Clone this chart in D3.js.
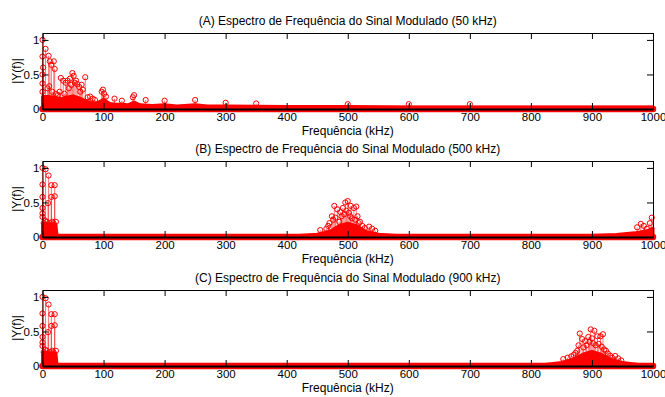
<!DOCTYPE html>
<html>
<head>
<meta charset="utf-8">
<script src="https://cdn.jsdelivr.net/npm/d3@7"></script>
<style>
  body { margin: 0; background: #fff; }
  svg text { font-family: "Liberation Sans", Arial, sans-serif; fill: #000; }
</style>
</head>
<body>
<svg id="chart" width="665" height="397"></svg>
<script>
// tick values and texts
const freqTicks = [0, 100, 200, 300, 400, 500, 600, 700, 800, 900, 1000];
const magTicks = [0, 0.5, 1];
const titles = [
  "(A) Espectro de Frequência do Sinal Modulado (50 kHz)",
  "(B) Espectro de Frequência do Sinal Modulado (500 kHz)",
  "(C) Espectro de Frequência do Sinal Modulado (900 kHz)"
];
const xLabel = "Frequência (kHz)";
const yLabel = "|Y(f)|";

// (A) visible stems
const peaksA_f = [0, 0, 0, 0, 0, 1, 5, 8, 10, 11, 12, 14.5, 16, 18.5, 20, 22, 25, 28, 30, 34, 36, 38, 41, 43, 45, 47, 49, 51, 53, 55, 57, 60, 62, 64, 66, 70, 74, 78, 82, 86, 97, 99, 101, 104, 118, 130, 148, 150, 169, 200, 250, 300, 350, 500, 600, 700];
const peaksA_v = [1.0, 0.76, 0.5, 0.37, 0.25, 0.6, 0.87, 0.3, 0.77, 0.33, 0.69, 0.64, 0.25, 0.69, 0.58, 0.22, 0.2, 0.25, 0.45, 0.41, 0.22, 0.38, 0.41, 0.3, 0.44, 0.35, 0.52, 0.48, 0.38, 0.41, 0.36, 0.32, 0.25, 0.35, 0.28, 0.46, 0.17, 0.18, 0.15, 0.13, 0.25, 0.28, 0.22, 0.18, 0.15, 0.12, 0.17, 0.2, 0.13, 0.12, 0.13, 0.09, 0.08, 0.07, 0.07, 0.07];
// (A) dense floor of stems (upper edge)
const floorA_f = [0, 10, 20, 30, 40, 50, 60, 70, 80, 90, 100, 110, 120, 130, 140, 150, 160, 180, 200, 220, 250, 270, 300, 350, 400, 450, 500, 600, 700, 800, 900, 1000];
const floorA_v = [0.18, 0.18, 0.17, 0.15, 0.17, 0.19, 0.16, 0.12, 0.09, 0.09, 0.14, 0.08, 0.07, 0.07, 0.06, 0.1, 0.06, 0.05, 0.06, 0.045, 0.06, 0.045, 0.045, 0.04, 0.035, 0.035, 0.035, 0.03, 0.03, 0.028, 0.028, 0.028];

// baseband stems shared by (B) and (C)
const baseband_f = [0, 0, 0, 0, 0, 0, 2, 4, 5, 7, 9, 10, 12, 14.5, 14.5, 16, 18, 20, 20, 22];
const baseband_v = [1.0, 0.76, 0.58, 0.42, 0.34, 0.29, 0.2, 0.24, 0.98, 0.22, 0.49, 0.89, 0.2, 0.75, 0.58, 0.22, 0.2, 0.75, 0.59, 0.22];

// (B) stems around 500 kHz and near 1000 kHz
const peaksB_f = [455, 465, 468, 470, 474, 476, 478, 480, 483, 486, 488, 490, 492, 494, 496, 498, 500, 502, 504, 505, 507, 510, 512, 514, 516, 518, 520, 524, 528, 535, 540, 545, 974, 980, 985, 990, 995, 998];
const peaksB_v = [0.1, 0.12, 0.16, 0.2, 0.3, 0.25, 0.45, 0.28, 0.4, 0.22, 0.36, 0.3, 0.42, 0.33, 0.5, 0.38, 0.52, 0.35, 0.3, 0.45, 0.27, 0.42, 0.25, 0.44, 0.3, 0.2, 0.22, 0.16, 0.13, 0.15, 0.12, 0.09, 0.14, 0.19, 0.16, 0.12, 0.2, 0.28];
const floorB_f = [0, 22, 24, 380, 420, 450, 470, 485, 500, 515, 530, 550, 580, 620, 860, 900, 940, 970, 990, 1000];
const floorB_v = [0.2, 0.18, 0.004, 0.004, 0.02, 0.04, 0.08, 0.16, 0.2, 0.16, 0.08, 0.04, 0.02, 0.004, 0.004, 0.02, 0.035, 0.06, 0.09, 0.13];

// (C) stems around 900 kHz
const peaksC_f = [853, 860, 866, 870, 873, 876, 878, 880, 884, 886, 889, 891, 894, 896, 898, 900, 902, 904, 906, 909, 911, 914, 916, 918, 920, 923, 926, 930, 933, 938, 943, 948];
const peaksC_v = [0.1, 0.12, 0.14, 0.16, 0.19, 0.22, 0.3, 0.47, 0.39, 0.27, 0.36, 0.3, 0.42, 0.35, 0.53, 0.4, 0.33, 0.51, 0.3, 0.43, 0.32, 0.43, 0.28, 0.46, 0.24, 0.22, 0.18, 0.15, 0.12, 0.145, 0.11, 0.08];
const floorC_f = [0, 22, 24, 780, 820, 850, 870, 885, 900, 915, 930, 950, 980, 1000];
const floorC_v = [0.2, 0.18, 0.004, 0.004, 0.02, 0.05, 0.1, 0.17, 0.21, 0.17, 0.1, 0.05, 0.018, 0.004];

const panels = [
  { top: 33, stems: d3.zip(peaksA_f, peaksA_v), floor: d3.zip(floorA_f, floorA_v) },
  { top: 161, stems: d3.zip(baseband_f, baseband_v).concat(d3.zip(peaksB_f, peaksB_v)), floor: d3.zip(floorB_f, floorB_v) },
  { top: 290, stems: d3.zip(baseband_f, baseband_v).concat(d3.zip(peaksC_f, peaksC_v)), floor: d3.zip(floorC_f, floorC_v) }
];

const left = 42.5, right = 653, plotH = 76;
const fontSize = 12, tickFont = 11.5;
const svg = d3.select("#chart");
svg.append("rect").attr("width", 665).attr("height", 397).attr("fill", "#fff");

const x = d3.scaleLinear().domain([0, 1000]).range([left, right]);

panels.forEach((p, i) => {
  const y = d3.scaleLinear().domain([0, 1.1]).range([p.top + plotH, p.top]);
  const g = svg.append("g");

  // dense floor of stems
  g.append("path")
    .datum(p.floor)
    .attr("fill", "#ff0000")
    .attr("stroke", "#ff0000")
    .attr("stroke-width", 3)
    .attr("stroke-linejoin", "round")
    .attr("d", d3.area().x(d => x(d[0])).y0(y(0)).y1(d => y(d[1])));

  // stems
  g.selectAll("line.stem")
    .data(p.stems)
    .enter()
    .append("line")
    .attr("class", "stem")
    .attr("x1", d => x(d[0])).attr("x2", d => x(d[0]))
    .attr("y1", y(0)).attr("y2", d => y(d[1]))
    .attr("stroke", "#ff0000")
    .attr("stroke-opacity", 0.6)
    .attr("stroke-width", 0.9);

  g.selectAll("circle.mk")
    .data(p.stems)
    .enter()
    .append("circle")
    .attr("class", "mk")
    .attr("cx", d => x(d[0]))
    .attr("cy", d => y(d[1]))
    .attr("r", 2.6)
    .attr("fill", "none")
    .attr("stroke", "#ff0000")
    .attr("stroke-width", 1);

  // zero-valued markers along the whole axis
  g.append("path")
    .datum([0, 1000])
    .attr("fill", "none")
    .attr("stroke", "#ff0000")
    .attr("stroke-width", 6.5)
    .attr("stroke-linecap", "round")
    .attr("d", d3.line().x(d => x(d)).y(y(0)));

  // axes box with inward ticks
  const bottom = g.append("g")
    .attr("transform", `translate(0,${y(0)})`)
    .call(d3.axisBottom(x).tickValues(freqTicks).tickSizeInner(-6).tickSizeOuter(0).tickPadding(4).tickFormat(d3.format("d")));
  g.append("g")
    .attr("transform", `translate(0,${p.top})`)
    .call(d3.axisTop(x).tickValues(freqTicks).tickSizeInner(-6).tickSizeOuter(0).tickFormat(""));
  g.append("g")
    .attr("transform", `translate(${left},0)`)
    .call(d3.axisLeft(y).tickValues(magTicks).tickSizeInner(-6).tickSizeOuter(0).tickPadding(3).tickFormat(d => String(d)));
  g.append("g")
    .attr("transform", `translate(${right},0)`)
    .call(d3.axisRight(y).tickValues(magTicks).tickSizeInner(-6).tickSizeOuter(0).tickFormat(""));

  g.selectAll(".domain").attr("stroke", "#000").attr("stroke-width", 1);
  g.selectAll(".tick line").attr("stroke", "#000");
  g.selectAll(".tick text").attr("font-size", tickFont).attr("font-family", "Liberation Sans, Arial, sans-serif");
  // baseline of the stem plot
  bottom.select(".domain").attr("stroke-width", 1.8);

  g.append("text")
    .attr("x", (left + right) / 2)
    .attr("y", p.top - 8)
    .attr("text-anchor", "middle")
    .attr("font-size", fontSize)
    .text(titles[i]);

  g.append("text")
    .attr("x", (left + right) / 2)
    .attr("y", y(0) + 26)
    .attr("text-anchor", "middle")
    .attr("font-size", fontSize)
    .text(xLabel);

  g.append("text")
    .attr("transform", `translate(21,${p.top + plotH / 2}) rotate(-90)`)
    .attr("text-anchor", "middle")
    .attr("font-size", fontSize)
    .text(yLabel);
});
</script>
</body>
</html>
